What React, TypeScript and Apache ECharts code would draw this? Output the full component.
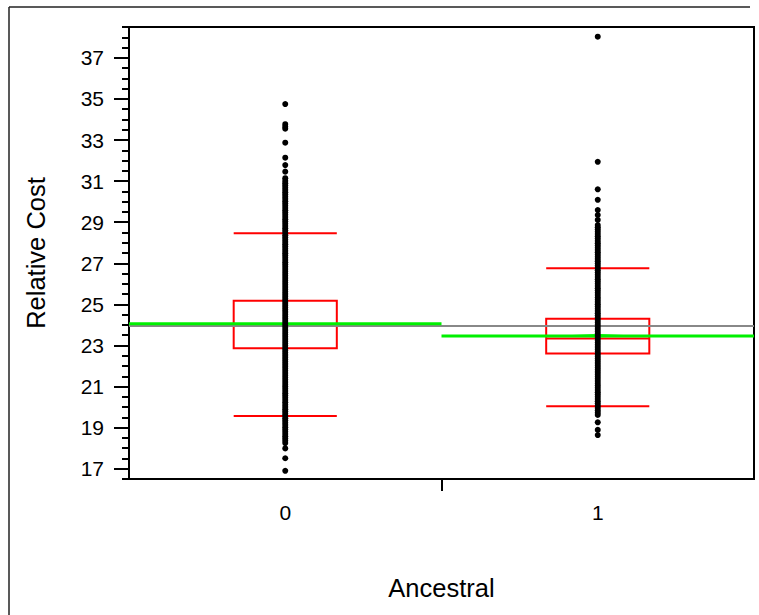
import React, { useEffect, useRef } from "react";
import * as echarts from "echarts";

const categories = ["0", "1"];
const yTickLabels = [17, 19, 21, 23, 25, 27, 29, 31, 33, 35, 37];

// box stats: [lower whisker, Q1, median, Q3, upper whisker]
const boxStats0 = [19.57, 22.86, 23.95, 25.18, 28.46];
const boxStats1 = [20.04, 22.61, 23.34, 24.3, 26.76];

const grandMean = 23.95;
const groupMeans = [24.06, 23.46];

const points0 = [
  16.9, 17.51, 17.99,
  18.25, 18.36, 18.47, 18.58, 18.69, 18.8, 18.91, 19.02, 19.13, 19.24, 19.35, 19.46, 19.57, 19.68,
  19.79, 19.9, 20.01, 20.12, 20.23, 20.34, 20.45, 20.56, 20.67, 20.78, 20.89, 21.0, 21.11, 21.22,
  21.33, 21.44, 21.55, 21.66, 21.77, 21.88, 21.99, 22.1, 22.21, 22.32, 22.43, 22.54, 22.65, 22.76,
  22.87, 22.98, 23.09, 23.2, 23.31, 23.42, 23.53, 23.64, 23.75, 23.86, 23.97, 24.08, 24.19, 24.3,
  24.41, 24.52, 24.63, 24.74, 24.85, 24.96, 25.07, 25.18, 25.29, 25.4, 25.51, 25.62, 25.73, 25.84,
  25.95, 26.06, 26.17, 26.28, 26.39, 26.5, 26.61, 26.72, 26.83, 26.94, 27.05, 27.16, 27.27, 27.38,
  27.49, 27.6, 27.71, 27.82, 27.93, 28.04, 28.15, 28.26, 28.37, 28.48, 28.59, 28.7, 28.81, 28.92,
  29.03, 29.14, 29.25, 29.36, 29.47, 29.58, 29.69, 29.8, 29.91, 30.02, 30.13, 30.24, 30.35, 30.46,
  30.57, 30.68, 30.79, 30.9, 31.01, 31.14,
  31.46, 31.78, 32.14, 32.87, 33.55, 33.65, 33.77, 34.75,
];

const points1 = [
  18.64, 18.89, 19.26,
  19.62, 19.73, 19.84, 19.95, 20.06, 20.17, 20.28, 20.39, 20.5, 20.61, 20.72, 20.83, 20.94, 21.05,
  21.16, 21.27, 21.38, 21.49, 21.6, 21.71, 21.82, 21.93, 22.04, 22.15, 22.26, 22.37, 22.48, 22.59,
  22.7, 22.81, 22.92, 23.03, 23.14, 23.25, 23.36, 23.47, 23.58, 23.69, 23.8, 23.91, 24.02, 24.13,
  24.24, 24.35, 24.46, 24.57, 24.68, 24.79, 24.9, 25.01, 25.12, 25.23, 25.34, 25.45, 25.56, 25.67,
  25.78, 25.89, 26.0, 26.11, 26.22, 26.33, 26.44, 26.55, 26.66, 26.77, 26.88, 26.99, 27.1, 27.21,
  27.32, 27.43, 27.54, 27.65, 27.76, 27.87, 27.98, 28.09, 28.2, 28.31, 28.42, 28.53, 28.64, 28.75,
  28.86,
  29.11, 29.35, 29.59, 30.09, 30.6, 31.94, 38.03,
];

// mean diamond of group 1: [x, y]
const diamond1 = [
  [0.835, 23.46],
  [1, 23.56],
  [1.165, 23.46],
  [1, 23.4],
];

const FONT = "'Liberation Sans', Arial, sans-serif";

export default function App() {
  const ref = useRef<HTMLDivElement>(null);

  useEffect(() => {
    if (!ref.current) return;
    const chart = echarts.init(ref.current, null, { renderer: "svg" });
    chart.setOption({
      animation: false,
      backgroundColor: "#ffffff",
      grid: {
        left: 129,
        right: 5,
        top: 27,
        bottom: 136,
        show: true,
        borderColor: "#000",
        borderWidth: 2,
        backgroundColor: "transparent",
      },
      graphic: [
        {
          type: "line",
          shape: { x1: 9, y1: 7, x2: 750, y2: 7 },
          style: { stroke: "#222", lineWidth: 1.5 },
          silent: true,
        },
        {
          type: "line",
          shape: { x1: 9, y1: 7, x2: 9, y2: 615 },
          style: { stroke: "#222", lineWidth: 1.5 },
          silent: true,
        },
      ],
      xAxis: [
        {
          type: "category",
          data: categories,
          position: "bottom",
          boundaryGap: true,
          axisLine: { onZero: false, lineStyle: { color: "#000", width: 2 } },
          axisTick: { show: false },
          axisLabel: { color: "#000", fontSize: 21, fontFamily: FONT, margin: 23 },
          splitLine: { show: false },
          name: "Ancestral",
          nameLocation: "middle",
          nameGap: 96,
          nameTextStyle: { color: "#000", fontSize: 25.5, fontFamily: FONT },
        },
        {
          type: "value",
          min: -0.5,
          max: 1.5,
          position: "bottom",
          axisLine: { show: false, onZero: false },
          axisTick: {
            show: true,
            customValues: [0.5],
            length: 12,
            lineStyle: { color: "#000", width: 2 },
          },
          axisLabel: { show: false },
          splitLine: { show: false },
        },
      ],
      yAxis: [
        {
          type: "value",
          min: 16.5,
          max: 38.5,
          position: "left",
          axisLine: { show: true, onZero: false, lineStyle: { color: "#000", width: 2 } },
          axisTick: {
            show: true,
            customValues: yTickLabels,
            length: 15,
            lineStyle: { color: "#000", width: 2 },
          },
          axisLabel: {
            customValues: yTickLabels,
            color: "#000",
            fontSize: 21,
            fontFamily: FONT,
            margin: 25,
          },
          splitLine: { show: false },
          name: "Relative Cost",
          nameLocation: "middle",
          nameGap: 80,
          nameTextStyle: { color: "#000", fontSize: 25.5, fontFamily: FONT },
        },
        {
          type: "value",
          min: 16.5,
          max: 38.5,
          interval: 0.5,
          position: "left",
          axisLine: { show: false, onZero: false },
          axisTick: { show: true, length: 7, lineStyle: { color: "#000", width: 2 } },
          axisLabel: { show: false },
          splitLine: { show: false },
        },
      ],
      series: [
        {
          type: "boxplot",
          xAxisIndex: 0,
          yAxisIndex: 0,
          data: [boxStats0, boxStats1],
          boxWidth: ["33%", "33%"],
          itemStyle: { color: "transparent", borderColor: "#ff0000", borderWidth: 2 },
          z: 2,
        },
        {
          type: "line",
          xAxisIndex: 1,
          yAxisIndex: 0,
          data: [
            [-0.5, grandMean],
            [1.5, grandMean],
          ],
          symbol: "none",
          lineStyle: { color: "#888888", width: 2 },
          z: 3,
        },
        {
          type: "line",
          xAxisIndex: 1,
          yAxisIndex: 0,
          data: [
            [-0.5, groupMeans[0]],
            [0.5, groupMeans[0]],
          ],
          symbol: "none",
          lineStyle: { color: "#00f000", width: 3 },
          z: 4,
        },
        {
          type: "line",
          xAxisIndex: 1,
          yAxisIndex: 0,
          data: [
            [0.5, groupMeans[1]],
            [1.5, groupMeans[1]],
          ],
          symbol: "none",
          lineStyle: { color: "#00f000", width: 3 },
          z: 4,
        },
        {
          type: "custom",
          xAxisIndex: 1,
          yAxisIndex: 0,
          data: [[1, groupMeans[1]]],
          renderItem: (_params: any, api: any) => {
            const pts = diamond1.map((p) => api.coord(p));
            return {
              type: "polygon",
              shape: { points: pts },
              style: { fill: "#00f000" },
            };
          },
          z: 4,
        },
        {
          type: "scatter",
          xAxisIndex: 1,
          yAxisIndex: 0,
          data: [
            ...points0.map((v) => [0, v]),
            ...points1.map((v) => [1, v]),
          ],
          symbol: "circle",
          symbolSize: 6,
          itemStyle: { color: "#000", opacity: 1 },
          z: 5,
        },
      ],
    });
    return () => chart.dispose();
  }, []);

  return (
    <div
      ref={ref}
      style={{ position: "fixed", left: 0, top: 0, width: 759, height: 615, background: "#fff" }}
    />
  );
}
